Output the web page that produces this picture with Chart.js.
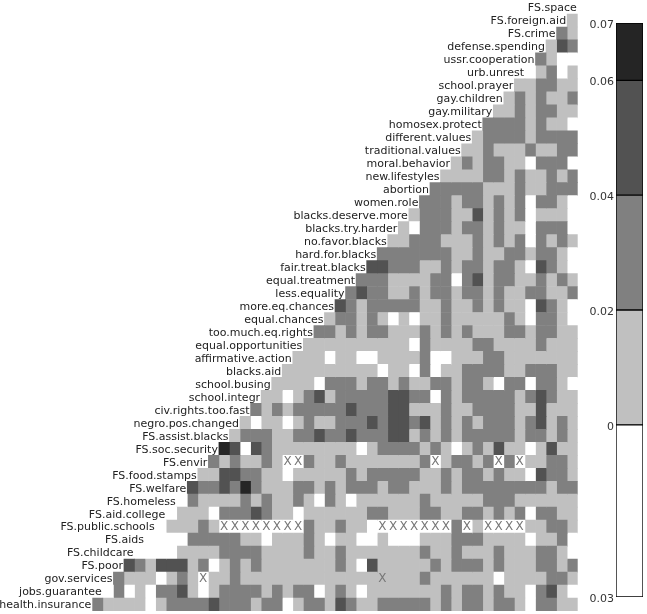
<!DOCTYPE html>
<html>
<head>
<meta charset="utf-8">
<title>Correlation levels</title>
<script src="https://cdn.jsdelivr.net/npm/chart.js@4"></script>
<style>
    body { margin: 0; background: #fff; }
    #chart-container { position: relative; width: 647px; height: 614px; overflow: hidden; }
    #myChart { position: absolute; left: 0; top: 0; }
    #legendChart { position: absolute; left: 585px; top: 0; }
</style>
</head>
<body>
<div id="chart-container">
    <canvas id="myChart" width="647" height="614"></canvas>
    <canvas id="legendChart" width="62" height="614"></canvas>
</div>
<script>
const rowLabels = ["FS.space", "FS.foreign.aid", "FS.crime", "defense.spending", "ussr.cooperation", "urb.unrest",
    "school.prayer", "gay.children", "gay.military", "homosex.protect", "different.values", "traditional.values",
    "moral.behavior", "new.lifestyles", "abortion", "women.role", "blacks.deserve.more", "blacks.try.harder",
    "no.favor.blacks", "hard.for.blacks", "fair.treat.blacks", "equal.treatment", "less.equality", "more.eq.chances",
    "equal.chances", "too.much.eq.rights", "equal.opportunities", "affirmative.action", "blacks.aid", "school.busing",
    "school.integr", "civ.rights.too.fast", "negro.pos.changed", "FS.assist.blacks", "FS.soc.security", "FS.envir",
    "FS.food.stamps", "FS.welfare", "FS.homeless", "FS.aid.college", "FS.public.schools", "FS.aids", "FS.childcare",
    "FS.poor", "gov.services", "jobs.guarantee", "health.insurance"]

// one string per row, right aligned against the last column.
// each digit is the band the cell falls in: 0 below zero ... 4 the top band
const cellBands = [
    "",
    "1",
    "21",
    "132",
    "2100",
    "01201",
    "112211",
    "1212112",
    "11212211",
    "222212110",
    "1222212222",
    "11211121122",
    "121221102220",
    "1111221211212",
    "22222111211222",
    "222122121202210",
    "1222113121201110",
    "10222122121102220",
    "112221112121202121",
    "2222222112112212210",
    "33222112122122103210",
    "222111122023122112121",
    "2322112122122121122112",
    "32122222112112121103210",
    "122121010112111112102210",
    "2212122111212121112212211",
    "11111111110211112211112111",
    "111011001111200111221111111",
    "1111111110110201122221122211",
    "11110222122121122122102202210",
    "110123122222332202122222123211",
    "2121222223222331112112222113111",
    "10110121122232332312121222123121",
    "122211223223222331212122222122121",
    "4303211111111012222121012131101311",
    "21211210021121111111201221202011221",
    "113322110111112122222112122121103221",
    "3223242111221212221221112122222222122",
    "02111121211210210111111211111222111111",
    "011102223211011111122111221122121202211",
    "0111210000000021121100000000201000011221",
    "00002222211011121011001000111222111101120",
    "000011112222111121121111111211211121112210",
    "3213331201212111111121031111121222121112212",
    "21110121011211111111111111111211111101111221",
    "020102231012222121220121011111112122121102310",
    "2111101222232221220122132112222212122122102211"
]

// [row, column] of the cells marked with an X
const xMarks = [
    [35, 18], [35, 19], [35, 32], [35, 38], [35, 40],
    [40, 12], [40, 13], [40, 14], [40, 15], [40, 16], [40, 17], [40, 18], [40, 19],
    [40, 27], [40, 28], [40, 29], [40, 30], [40, 31], [40, 32], [40, 33], [40, 35],
    [40, 37], [40, 38], [40, 39], [40, 40],
    [44, 10], [44, 27]
]

const bandColors = ["#ffffff", "#c0c0c0", "#808080", "#525252", "#252525"]
const legendBreaks = [-0.03, 0, 0.02, 0.04, 0.06, 0.07]
const legendLabels = ["0.03", "0", "0.02", "0.04", "0.06", "0.07"]

const columnCount = 46
const fontName = "'DejaVu Sans', sans-serif"

function buildColumnDatasets() {
    var datasets = []
    for (var col = 0; col < columnCount; col++) {
        var data = []
        var colors = []
        for (var row = 0; row < cellBands.length; row++) {
            var cells = cellBands[row]
            var idx = col - (columnCount - cells.length)
            if (idx >= 0) {
                data.push([col, col + 1])
                colors.push(bandColors[Number(cells[idx])])
            } else {
                data.push(null)
                colors.push("#ffffff")
            }
        }
        datasets.push({
            data: data,
            backgroundColor: colors,
            borderWidth: 0,
            barPercentage: 1,
            categoryPercentage: 1,
            grouped: false
        })
    }
    return datasets
}

// the row names run along the diagonal and the X marks sit on top of the cells
const cellText = {
    id: "cellText",
    afterDatasetsDraw: function (chart) {
        var ctx = chart.ctx
        var xs = chart.scales.x
        var ys = chart.scales.y
        ctx.save()
        ctx.textBaseline = "middle"
        ctx.textAlign = "right"
        ctx.font = "11px " + fontName
        ctx.fillStyle = "#222222"
        rowLabels.forEach(function (label, i) {
            ctx.fillText(label, xs.getPixelForValue(columnCount - i) - 1, ys.getPixelForValue(i) + 1)
        })
        ctx.textAlign = "center"
        ctx.font = "12px " + fontName
        ctx.fillStyle = "#777777"
        xMarks.forEach(function (m) {
            ctx.fillText("X", xs.getPixelForValue(m[1] + 0.5), ys.getPixelForValue(m[0]))
        })
        ctx.restore()
    }
}

new Chart(document.getElementById("myChart"), {
    type: "bar",
    data: { labels: rowLabels, datasets: buildColumnDatasets() },
    options: {
        indexAxis: "y",
        responsive: false,
        animation: false,
        events: [],
        layout: { padding: { left: 92.3, right: 69.3, top: 1, bottom: 3 } },
        scales: {
            x: { type: "linear", min: 0, max: columnCount, display: false },
            y: { type: "category", display: false }
        },
        plugins: { legend: { display: false }, tooltip: { enabled: false } }
    },
    plugins: [cellText]
})

var legendSets = []
for (var b = 0; b < bandColors.length; b++) {
    legendSets.push({
        data: [[legendBreaks[b], legendBreaks[b + 1]]],
        backgroundColor: bandColors[b],
        borderColor: "#000000",
        borderWidth: 1,
        borderSkipped: false,
        barPercentage: 1,
        categoryPercentage: 1,
        grouped: false
    })
}

new Chart(document.getElementById("legendChart"), {
    type: "bar",
    data: { labels: ["levels"], datasets: legendSets },
    options: {
        responsive: false,
        animation: false,
        events: [],
        layout: { padding: { left: 0, right: 4, top: 23, bottom: 17 } },
        scales: {
            x: { display: false },
            y: {
                type: "linear",
                min: -0.03,
                max: 0.07,
                grid: { display: false, drawTicks: false },
                border: { display: false },
                afterBuildTicks: function (scale) {
                    scale.ticks = legendBreaks.map(function (v) { return { value: v } })
                },
                afterFit: function (scale) { scale.width = 31 },
                ticks: {
                    autoSkip: false,
                    padding: 2,
                    labelOffset: 2,
                    color: "#333333",
                    font: { family: fontName, size: 11 },
                    callback: function (value, index) { return legendLabels[index] }
                }
            }
        },
        plugins: { legend: { display: false }, tooltip: { enabled: false } }
    }
})
</script>
</body>
</html>
